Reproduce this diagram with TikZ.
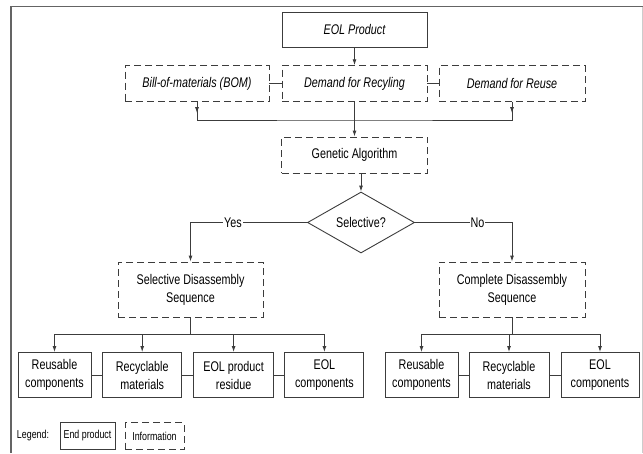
\documentclass[tikz,border=0pt]{standalone}
\usepackage{fontspec}
\setmainfont{Liberation Sans}[FakeStretch=0.77]
\usetikzlibrary{shapes.geometric,arrows.meta}
\definecolor{linegray}{RGB}{60,60,60}
\definecolor{framegray}{RGB}{100,100,100}
\begin{document}
\begin{tikzpicture}[x=1pt,y=-1pt,
  line width=0.9pt, draw=linegray,
  endbox/.style={draw=linegray, rectangle, align=center, inner sep=0pt,
    font=\fontsize{14}{18}\selectfont},
  infobox/.style={endbox, dash pattern=on 7pt off 4pt},
  arr/.style={-{Latex[length=6pt,width=4pt]}},
  yesno/.style={fill=white, inner sep=1pt, font=\fontsize{14}{18}\selectfont}]
  \useasboundingbox (0,0) rectangle (643,453);
  % frame
  \draw[framegray, line width=1.4pt] (11,453) -- (11,6.5) -- (643,6.5);
  \draw[black!20, line width=1pt] (642,6.5) -- (642,453);

  % top part
  \node[endbox, minimum width=145pt, minimum height=35pt, font=\fontsize{14}{18}\selectfont\itshape] (eol) at (354.5,29.5) {EOL Product};
  \node[infobox, minimum width=144pt, minimum height=36pt, font=\fontsize{14}{18}\selectfont\itshape] (bom) at (197,83.7) {Bill-of-materials (BOM)};
  \node[infobox, minimum width=145pt, minimum height=36pt, font=\fontsize{14}{18}\selectfont\itshape] (recyc) at (354.5,83.7) {Demand for Recyling};
  \node[infobox, minimum width=146pt, minimum height=36pt, font=\fontsize{14}{18}\selectfont\itshape] (reuse) at (512,83.7) {Demand for Reuse};
  \node[infobox, minimum width=146pt, minimum height=36pt] (ga) at (354.5,155) {Genetic Algorithm};
  \node[draw=linegray, diamond, aspect=1.75, minimum width=107pt, minimum height=61pt, inner sep=0pt,
    font=\fontsize{14}{18}\selectfont] (sel) at (361,222.5) {Selective?};

  \coordinate (merge) at (354.5,120);
  \draw[arr] (eol) -- (recyc);
  \draw (bom) -- (recyc);
  \draw (recyc) -- (reuse);
  \draw (bom.south) |- (merge) -| (reuse.south);
  \draw[arr] (bom.south) -- ++(0,11);
  \draw[arr] (reuse.south) -- ++(0,11);
  \draw[arr] (recyc) -- (ga);
  \draw[arr] (ga.south -| sel.north) -- (sel.north);

  % disassembly sequences
  \node[infobox, minimum width=145pt, minimum height=55pt] (sds) at (190.5,289.5) {Selective Disassembly\\Sequence};
  \node[infobox, minimum width=146pt, minimum height=55pt] (cds) at (512,289.5) {Complete Disassembly\\Sequence};
  \draw[arr] (sel.west) -| (sds.north) node[pos=0.318, yesno] {Yes};
  \draw[arr] (sel.east) -| (cds.north) node[pos=0.322, yesno] {No};

  % end products, selective
  \node[endbox, minimum width=73pt, minimum height=45pt] (sreuse) at (54.5,375) {Reusable\\components};
  \node[endbox, minimum width=79pt, minimum height=45pt] (srecyc) at (142.2,375) {Recyclable\\materials};
  \node[endbox, minimum width=80pt, minimum height=45pt] (sresid) at (233.6,375) {EOL product\\residue};
  \node[endbox, minimum width=79pt, minimum height=45pt] (scomp) at (324.4,375) {EOL\\components};
  \coordinate (ssplit) at (190.5,334);
  \draw (sds.south) -- (ssplit);
  \draw (sreuse.north |- ssplit) -- (scomp.north |- ssplit);
  \foreach \n in {sreuse,srecyc,sresid,scomp}
    \draw[arr] (\n.north |- ssplit) -- (\n.north);
  \draw (sreuse) -- (srecyc);
  \draw (srecyc) -- (sresid);
  \draw (sresid) -- (scomp);

  % end products, complete
  \node[endbox, minimum width=73pt, minimum height=45pt] (creuse) at (421.5,375) {Reusable\\components};
  \node[endbox, minimum width=80pt, minimum height=45pt] (crecyc) at (509,375) {Recyclable\\materials};
  \node[endbox, minimum width=78pt, minimum height=45pt] (ccomp) at (600,375) {EOL\\components};
  \coordinate (csplit) at (512,334);
  \draw (cds.south) -- (csplit);
  \draw (creuse.north |- csplit) -- (ccomp.north |- csplit);
  \foreach \n in {creuse,crecyc,ccomp}
    \draw[arr] (\n.north |- csplit) -- (\n.north);
  \draw (creuse) -- (crecyc);
  \draw (crecyc) -- (ccomp);

  % legend
  \node[font=\fontsize{11.5}{13}\selectfont] (legend) at (33,436) {Legend:};
  \node[endbox, minimum width=55pt, minimum height=27pt, font=\fontsize{11.5}{13}\selectfont] (endp) at (87.5,436) {End product};
  \node[infobox, minimum width=59pt, minimum height=27pt, font=\fontsize{11.5}{13}\selectfont] (info) at (154.5,436) {Information};
\end{tikzpicture}
\end{document}
